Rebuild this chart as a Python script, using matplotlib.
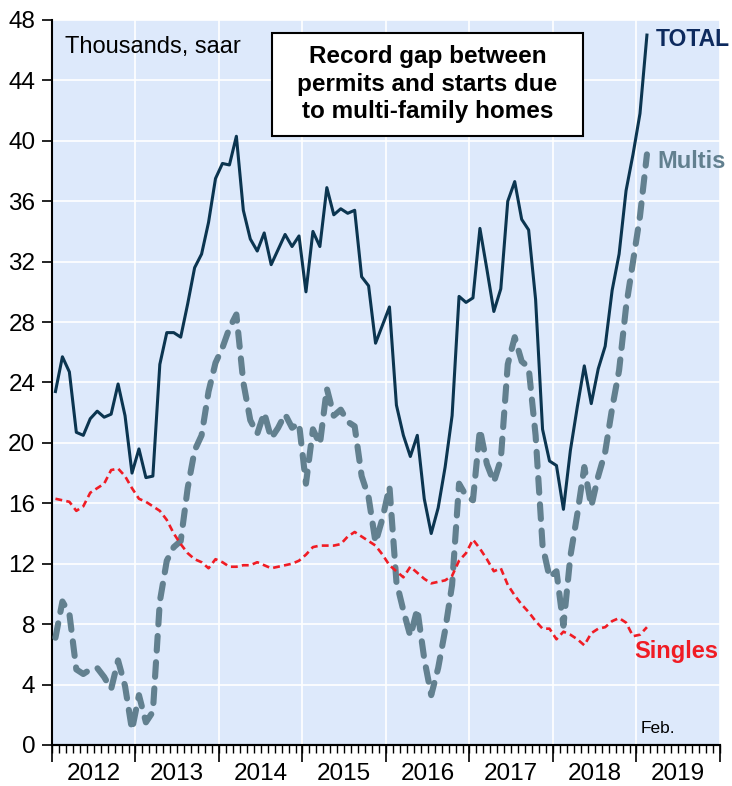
import numpy as np
import matplotlib
matplotlib.use('Agg')
import matplotlib.pyplot as plt
from matplotlib.patches import Rectangle

plt.rcParams['font.family'] = ['Liberation Sans', 'DejaVu Sans']

# monthly data, Jan 2012 - Feb 2019 (thousands, saar)
total = [23.4, 25.7, 24.7, 20.7, 20.5, 21.6, 22.1, 21.7, 21.9, 23.9, 21.8, 18.0,
         19.6, 17.7, 17.8, 25.2, 27.3, 27.3, 27.0, 29.2, 31.6, 32.5, 34.6, 37.5,
         38.5, 38.4, 40.3, 35.4, 33.5, 32.7, 33.9, 31.8, 32.8, 33.8, 33.0, 33.7,
         30.0, 34.0, 33.0, 36.9, 35.1, 35.5, 35.2, 35.4, 31.0, 30.4, 26.6, 27.8,
         29.0, 22.5, 20.5, 19.1, 20.5, 16.3, 14.0, 15.7, 18.4, 21.8, 29.7, 29.3,
         29.6, 34.2, 31.5, 28.7, 30.2, 36.0, 37.3, 34.8, 34.1, 29.5, 20.9, 18.8,
         18.5, 15.6, 19.5, 22.4, 25.1, 22.6, 24.9, 26.4, 30.1, 32.5, 36.7, 39.1,
         41.8, 47.0]
multis = [7.1, 9.5, 8.7, 5.0, 4.7, 5.0, 5.1, 4.5, 3.7, 5.6, 3.9, 1.0,
          3.3, 1.5, 2.2, 9.5, 12.2, 13.1, 13.5, 17.0, 19.5, 20.5, 23.4, 25.3,
          26.3, 27.6, 28.5, 24.0, 21.5, 20.6, 22.0, 20.3, 21.0, 21.9, 21.0, 21.3,
          17.3, 20.9, 19.9, 23.6, 21.8, 22.2, 21.4, 21.1, 17.8, 16.4, 13.4, 15.0,
          17.1, 10.8, 8.9, 7.2, 9.0, 5.7, 3.3, 5.1, 7.6, 10.6, 17.3, 16.5,
          16.2, 20.9, 18.6, 17.4, 18.9, 25.2, 27.0, 25.4, 25.0, 20.5, 13.2, 11.1,
          11.5, 7.9, 12.5, 15.3, 18.4, 15.8, 17.8, 19.4, 22.3, 24.8, 29.0, 32.0,
          35.0, 39.1]
singles = [16.3, 16.2, 16.1, 15.5, 15.8, 16.7, 17.0, 17.3, 18.2, 18.3, 17.8, 17.0,
           16.3, 16.1, 15.8, 15.5, 14.9, 14.0, 13.3, 12.7, 12.3, 12.1, 11.7, 12.3,
           12.1, 11.8, 11.8, 11.9, 11.9, 12.1, 11.9, 11.7, 11.8, 11.9, 12.0, 12.2,
           12.6, 13.1, 13.2, 13.2, 13.2, 13.3, 13.8, 14.1, 13.8, 13.5, 13.2, 12.6,
           11.9, 11.5, 11.1, 11.8, 11.4, 11.0, 10.7, 10.8, 10.9, 11.2, 12.2, 12.7,
           13.6, 13.0, 12.3, 11.5, 11.7, 10.6, 9.9, 9.3, 8.8, 8.2, 7.7, 7.7,
           7.0, 7.5, 7.3, 7.0, 6.6, 7.4, 7.7, 7.8, 8.2, 8.4, 8.1, 7.2,
           7.3, 7.8]
year_labels = ['2012', '2013', '2014', '2015', '2016', '2017', '2018', '2019']

# month positions as fractional years (middle of each month)
x = 2012 + (np.arange(len(total)) + 0.5) / 12

fig = plt.figure(figsize=(7.32, 7.86), dpi=100)
ax = fig.add_axes([0.071, 0.0522, 0.9126, 0.9224])
ax.set_facecolor('#dde9fb')

ax.plot(x, multis, color='#62808f', lw=4.4, linestyle=(0, (2.4, 1.9)),
        dash_capstyle='round', zorder=3)
ax.plot(x, singles, color='#f01c24', lw=1.9, linestyle=(0, (2.6, 1.6)), zorder=3)
ax.plot(x, total, color='#0b3550', lw=2.2, zorder=4)

ax.set_xlim(2012, 2020)
ax.set_ylim(0, 48)
ax.set_yticks(np.arange(0, 49, 4))
ax.tick_params(axis='y', labelsize=17.5, length=7, width=1.2, pad=5, direction='out')

ax.set_xticks(np.arange(2012, 2021), labels=[''] * 9)
ax.set_xticks(np.arange(2012, 2020) + 0.5, labels=year_labels, minor=True)
ax.tick_params(axis='x', which='major', length=12, width=1.2, direction='out')
ax.tick_params(axis='x', which='minor', length=0, labelsize=17.5, pad=13)
sec = ax.secondary_xaxis('bottom')
sec.set_xticks(2012 + np.arange(0, 97) / 12, labels=[''] * 97)
sec.tick_params(length=6, width=1.0, direction='out')
sec.spines['bottom'].set_linewidth(1.5)

ax.grid(True, which='major', color='white', lw=1.2)
ax.set_axisbelow(True)
for s in ['top', 'right']:
    ax.spines[s].set_visible(False)
ax.spines['left'].set_linewidth(1.5)
ax.spines['bottom'].set_linewidth(1.5)

ax.text(0.0195, 0.963, 'Thousands, saar', transform=ax.transAxes,
        fontsize=17, va='center', ha='left')
ax.add_patch(Rectangle((0.329, 0.840), 0.466, 0.142, transform=ax.transAxes,
                       facecolor='white', edgecolor='black', lw=1.5, zorder=5))
ax.text(0.562, 0.911, 'Record gap between\npermits and starts due\nto multi-family homes',
        transform=ax.transAxes, fontsize=17.5, fontweight='bold', ha='center',
        va='center', linespacing=1.25, zorder=6)

ax.text(2019.23, 46.7, 'TOTAL', color='#0d2a5e', fontsize=16.5, fontweight='bold',
        va='center', ha='left', clip_on=False)
ax.text(2019.25, 38.6, 'Multis', color='#62808f', fontsize=17, fontweight='bold',
        va='center', ha='left', clip_on=False)
ax.text(2018.97, 6.2, 'Singles', color='#f01c24', fontsize=17, fontweight='bold',
        va='center', ha='left', clip_on=False)
ax.text(2019.05, 1.1, 'Feb.', fontsize=12.5, va='center', ha='left')

fig.savefig('out.png', dpi=100)
